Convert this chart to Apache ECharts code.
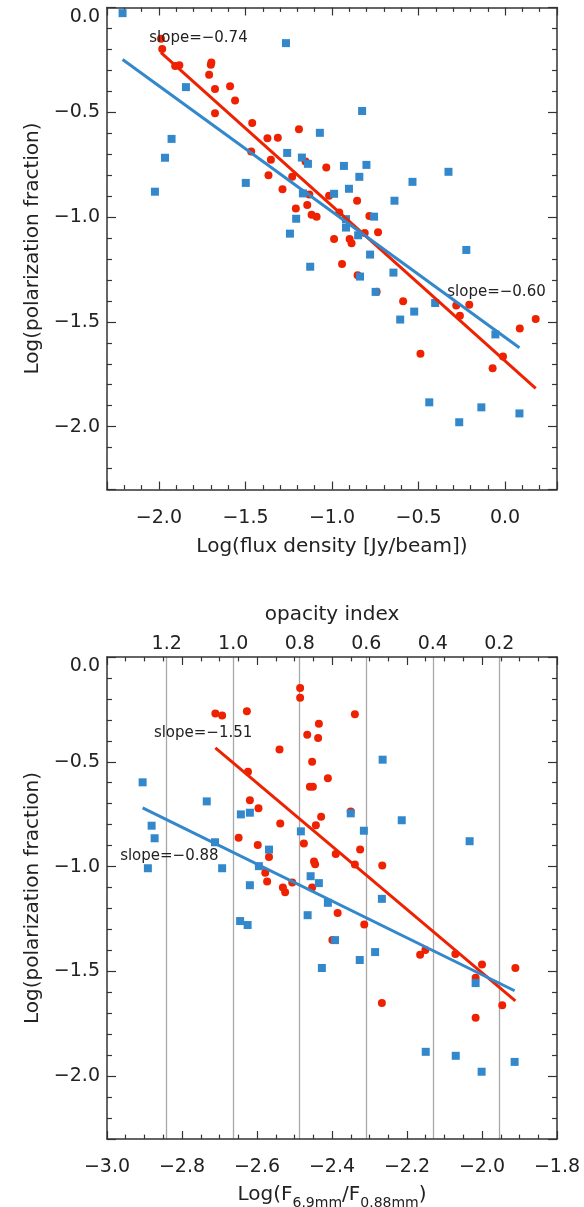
<!DOCTYPE html>
<html>
<head>
<meta charset="utf-8">
<script src="https://cdn.jsdelivr.net/npm/echarts@6/dist/echarts.min.js"></script>
<style>
  html, body { margin: 0; background: #fff; }
  #chart { width: 584px; height: 1207px; }
</style>
</head>
<body>
<div id="chart"></div>
<script>
// top panel: log flux density vs log polarization fraction
var fluxCircles = [
  [-1.988, -0.149], [-1.981, -0.198], [-1.906, -0.279], [-1.882, -0.275], [-1.697, -0.263],
  [-1.700, -0.273], [-1.710, -0.321], [-1.676, -0.389], [-1.589, -0.376], [-1.560, -0.444],
  [-1.676, -0.505], [-1.461, -0.551], [-1.373, -0.624], [-1.313, -0.622], [-1.191, -0.581],
  [-1.467, -0.687], [-1.353, -0.727], [-1.367, -0.800], [-1.230, -0.808], [-1.286, -0.867],
  [-1.153, -0.735], [-1.033, -0.763], [-1.131, -0.892], [-1.017, -0.898], [-1.143, -0.943],
  [-1.209, -0.959], [-1.118, -0.989], [-1.089, -0.998], [-0.988, -1.105], [-0.855, -0.922],
  [-0.958, -0.978], [-0.784, -0.995], [-0.811, -1.076], [-0.734, -1.073], [-0.898, -1.105],
  [-0.887, -1.125], [-0.942, -1.224], [-0.852, -1.278], [-0.742, -1.356], [-0.589, -1.402],
  [-0.489, -1.652], [-0.282, -1.422], [-0.207, -1.419], [-0.261, -1.471], [-0.072, -1.722],
  [-0.012, -1.665], [0.085, -1.532], [0.177, -1.487]
];
var fluxSquares = [
  [-2.210, -0.027], [-1.266, -0.170], [-1.844, -0.380], [-1.927, -0.627], [-1.965, -0.717],
  [-2.023, -0.879], [-1.498, -0.837], [-1.070, -0.598], [-1.259, -0.694], [-1.174, -0.716],
  [-1.139, -0.746], [-1.168, -0.887], [-0.988, -0.889], [-1.207, -1.008], [-1.243, -1.079],
  [-0.826, -0.494], [-0.931, -0.756], [-0.801, -0.751], [-0.842, -0.808], [-0.902, -0.865],
  [-0.327, -0.784], [-0.535, -0.832], [-0.639, -0.922], [-0.757, -0.998], [-0.919, -1.010],
  [-0.919, -1.050], [-0.849, -1.087], [-0.224, -1.157], [-0.780, -1.179], [-1.126, -1.237],
  [-0.838, -1.284], [-0.645, -1.265], [-0.748, -1.357], [-0.606, -1.489], [-0.525, -1.451],
  [-0.404, -1.410], [-0.056, -1.560], [-0.438, -1.884], [-0.265, -1.979], [-0.137, -1.908],
  [0.083, -1.937]
];
// bottom panel: log(F6.9mm/F0.88mm) vs log polarization fraction
var ratioCircles = [
  [-2.485, -0.148], [-2.485, -0.195], [-2.711, -0.270], [-2.693, -0.279], [-2.627, -0.259],
  [-2.435, -0.319], [-2.466, -0.371], [-2.437, -0.386], [-2.540, -0.441], [-2.453, -0.500],
  [-2.624, -0.548], [-2.411, -0.578], [-2.459, -0.619], [-2.451, -0.619], [-2.619, -0.683],
  [-2.596, -0.722], [-2.429, -0.762], [-2.443, -0.803], [-2.538, -0.795], [-2.649, -0.862],
  [-2.475, -0.890], [-2.598, -0.897], [-2.390, -0.940], [-2.568, -0.954], [-2.448, -0.976],
  [-2.445, -0.989], [-2.578, -1.029], [-2.573, -1.071], [-2.506, -1.076], [-2.531, -1.100],
  [-2.525, -1.122], [-2.453, -1.100], [-2.339, -0.273], [-2.350, -0.737], [-2.325, -0.919],
  [-2.339, -0.990], [-2.266, -0.995], [-2.385, -1.221], [-2.314, -1.276], [-2.399, -1.351],
  [-2.267, -1.651], [-2.165, -1.421], [-2.151, -1.398], [-2.071, -1.417], [-2.000, -1.467],
  [-2.017, -1.530], [-2.017, -1.721], [-1.946, -1.662], [-1.911, -1.484]
];
var ratioSquares = [
  [-2.905, -0.598], [-2.734, -0.689], [-2.881, -0.805], [-2.873, -0.865], [-2.891, -1.008],
  [-2.712, -0.884], [-2.693, -1.008], [-2.643, -0.751], [-2.619, -0.743], [-2.568, -0.919],
  [-2.595, -0.998], [-2.619, -1.089], [-2.483, -0.832], [-2.457, -1.046], [-2.435, -1.079],
  [-2.265, -0.490], [-2.350, -0.746], [-2.214, -0.779], [-2.315, -0.829], [-2.033, -0.879],
  [-2.267, -1.154], [-2.645, -1.260], [-2.625, -1.279], [-2.465, -1.232], [-2.411, -1.173],
  [-2.392, -1.351], [-2.427, -1.484], [-2.285, -1.408], [-2.326, -1.446], [-2.017, -1.556],
  [-2.150, -1.884], [-2.070, -1.903], [-2.001, -1.979], [-1.913, -1.932]
];
// linear fits: [slope, intercept]
var fluxFitCircles = [-0.74, -1.687];
var fluxFitSquares = [-0.60, -1.574];
var ratioFitCircles = [-1.51, -4.527];
var ratioFitSquares = [-0.88, -3.276];
// opacity index at the left and right edge of the bottom panel
var opacityRange = [1.3795, 0.0265];

var RED = "#ee2200";
var BLUE = "#3388cc";
var INK = "#222";
var FONT = "DejaVu Sans";

function fmt(v, d) {
  return (v < -1e-9 ? "\u2212" : "") + Math.abs(v).toFixed(d);
}

function fitLine(pts, fit) {
  var xs = pts.map(function (p) { return p[0]; });
  var x0 = Math.min.apply(null, xs), x1 = Math.max.apply(null, xs);
  return [[x0, fit[1] + fit[0] * x0], [x1, fit[1] + fit[0] * x1]];
}

function frameAxis(grid, pos, min, max, o) {
  var horiz = pos === "top" || pos === "bottom";
  var len = horiz ? 8 : 9;
  var ax = {
    type: "value", gridIndex: grid, position: pos, min: min, max: max,
    axisLine: { show: true, onZero: false, lineStyle: { color: "#333", width: 1.5 } },
    axisTick: { show: true, inside: true, length: len, lineStyle: { color: "#333", width: 1.2 } },
    minorTick: { show: true, splitNumber: o.minor, length: len * 0.55, lineStyle: { color: "#333", width: 1.2 } },
    splitLine: { show: false },
    axisLabel: {
      show: !!o.labels, color: INK, fontFamily: FONT, fontSize: 19,
      margin: horiz ? 19 : 7,
      showMinLabel: !!o.minLabel, showMaxLabel: !!o.maxLabel,
      formatter: function (v) { return fmt(v, 1); }
    }
  };
  if (o.interval) ax.interval = o.interval;
  if (!horiz) ax.axisLabel.verticalAlignMaxLabel = "top";
  if (o.name) {
    ax.name = o.name;
    ax.nameLocation = "middle";
    ax.nameGap = o.gap;
    ax.nameTextStyle = Object.assign({ color: INK, fontFamily: FONT, fontSize: 20 }, o.nameStyle || {});
  }
  return ax;
}

function slopeMark(fit, coord) {
  return {
    symbol: "circle", symbolSize: 0, silent: true,
    label: {
      show: true, position: "right", distance: 0, color: INK, fontFamily: FONT, fontSize: 15,
      formatter: function () { return "slope=" + fmt(fit[0], 2); }
    },
    data: [{ coord: coord }]
  };
}

function scatter(xi, pts, color, symbol, z) {
  return {
    type: "scatter", xAxisIndex: xi, yAxisIndex: xi, data: pts, symbol: symbol,
    symbolSize: 8, itemStyle: { color: color, opacity: 1 }, z: z
  };
}

function fit(xi, pts, f, color, z, coord) {
  return {
    type: "line", xAxisIndex: xi, yAxisIndex: xi, data: fitLine(pts, f), symbol: "none",
    lineStyle: { color: color, width: 3 }, z: z, markPoint: slopeMark(f, coord)
  };
}

var chart = echarts.init(document.getElementById("chart"));
var yName = "Log(polarization fraction)";

chart.setOption({
  animation: false,
  backgroundColor: "#fff",
  grid: [
    { left: 107, top: 7.5, width: 450, height: 482, outerBoundsMode: "none", containLabel: false },
    { left: 107, top: 657, width: 450, height: 482, outerBoundsMode: "none", containLabel: false }
  ],
  xAxis: [
    frameAxis(0, "bottom", -2.3, 0.3, { minor: 5, labels: true, name: "Log(flux density [Jy/beam])", gap: 47 }),
    frameAxis(0, "top", -2.3, 0.3, { minor: 5 }),
    frameAxis(1, "bottom", -3.0, -1.8, {
      minor: 4, interval: 0.2, labels: true, minLabel: true, maxLabel: true,
      name: "{m|Log(F}{s|6.9mm}{m|/F}{s|0.88mm}{m|)}", gap: 46,
      nameStyle: {
        rich: {
          m: { fontSize: 20, fontFamily: FONT, color: INK, lineHeight: 22, verticalAlign: "top" },
          s: { fontSize: 14, fontFamily: FONT, color: INK, lineHeight: 25, verticalAlign: "bottom" }
        }
      }
    }),
    frameAxis(1, "top", -3.0, -1.8, { minor: 4, interval: 0.2 }),
    {
      type: "value", gridIndex: 1, position: "top", inverse: true,
      min: opacityRange[1], max: opacityRange[0], splitNumber: 6,
      axisLine: { show: false, onZero: false },
      axisTick: { show: false },
      axisLabel: {
        show: true, margin: 3, color: INK, fontFamily: FONT, fontSize: 19,
        showMinLabel: false, showMaxLabel: false,
        formatter: function (v) { return v.toFixed(1); }
      },
      splitLine: { show: true, showMinLine: false, showMaxLine: false, lineStyle: { color: "#a8a8a8", width: 1.3 } },
      name: "opacity index", nameLocation: "middle", nameGap: 32,
      nameTextStyle: { color: INK, fontFamily: FONT, fontSize: 20 }
    }
  ],
  yAxis: [
    frameAxis(0, "left", -2.3, 0, { minor: 5, labels: true, maxLabel: true, name: yName, gap: 60 }),
    frameAxis(0, "right", -2.3, 0, { minor: 5 }),
    frameAxis(1, "left", -2.3, 0, { minor: 5, labels: true, maxLabel: true, name: yName, gap: 60 }),
    frameAxis(1, "right", -2.3, 0, { minor: 5 })
  ],
  series: [
    scatter(0, fluxCircles, RED, "circle", 2),
    scatter(0, fluxSquares, BLUE, "rect", 3),
    fit(0, fluxCircles, fluxFitCircles, RED, 4, [-2.056, -0.148]),
    fit(0, fluxSquares, fluxFitSquares, BLUE, 5, [-0.334, -1.356]),
    // bottom panel uses xAxis 2 / yAxis 2
    scatter(2, ratioCircles, RED, "circle", 2),
    scatter(2, ratioSquares, BLUE, "rect", 3),
    fit(2, ratioCircles, ratioFitCircles, RED, 4, [-2.875, -0.363]),
    fit(2, ratioSquares, ratioFitSquares, BLUE, 5, [-2.965, -0.951])
  ]
});
</script>
</body>
</html>
